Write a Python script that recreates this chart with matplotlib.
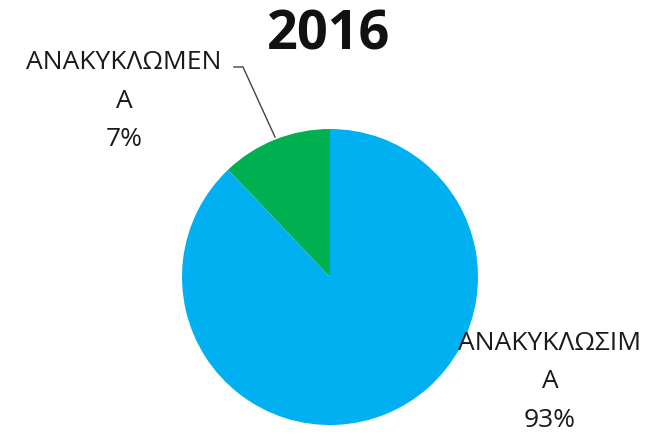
import matplotlib
matplotlib.use('Agg')
import matplotlib.pyplot as plt

plt.rcParams['font.family'] = ['Open Sans', 'DejaVu Sans']

# 円グラフのデータ（扇形の大きさは図から読み取り、ラベルは図の表記どおり）
categories = ['ΑΝΑΚΥΚΛΩΜΕΝ\nΑ', 'ΑΝΑΚΥΚΛΩΣΙΜ\nΑ']
slice_share = [12.1, 87.9]
pct_labels = ['7%', '93%']
colors = ['#00B050', '#00B0F0']
title = '2016'

W, H = 659, 434
fig = plt.figure(figsize=(W / 100, H / 100), dpi=100)

# 円の中心 (330, 277)px, 半径 148px
cx, cy, r = 330, 277, 148
ax = fig.add_axes([(cx - r) / W, (H - cy - r) / H, 2 * r / W, 2 * r / H])
ax.pie(slice_share, colors=colors, startangle=90, counterclock=True,
       radius=1, wedgeprops=dict(linewidth=0))
ax.set_xlim(-1, 1)
ax.set_ylim(-1, 1)
ax.set_aspect('equal')
ax.axis('off')

def px(x, y):
    return x / W, 1 - y / H

fig.text(*px(329, 35), title, ha='center', va='center',
         fontsize=39, fontweight='bold', color='#111111')

# ラベル
left_txt = f'{categories[0]}\n{pct_labels[0]}'
right_txt = f'{categories[1]}\n{pct_labels[1]}'
fig.text(*px(124, 101), left_txt, ha='center', va='center',
         fontsize=19, linespacing=1.72, color='#1a1a1a')
fig.text(*px(550, 382), right_txt, ha='center', va='center',
         fontsize=19, linespacing=1.72, color='#1a1a1a')

# 引き出し線
fig.add_artist(plt.Line2D([234 / W, 243 / W, 275 / W],
                          [1 - 67 / H, 1 - 67 / H, 1 - 137 / H],
                          color='#444444', linewidth=1))

fig.savefig('out.png', dpi=100)
